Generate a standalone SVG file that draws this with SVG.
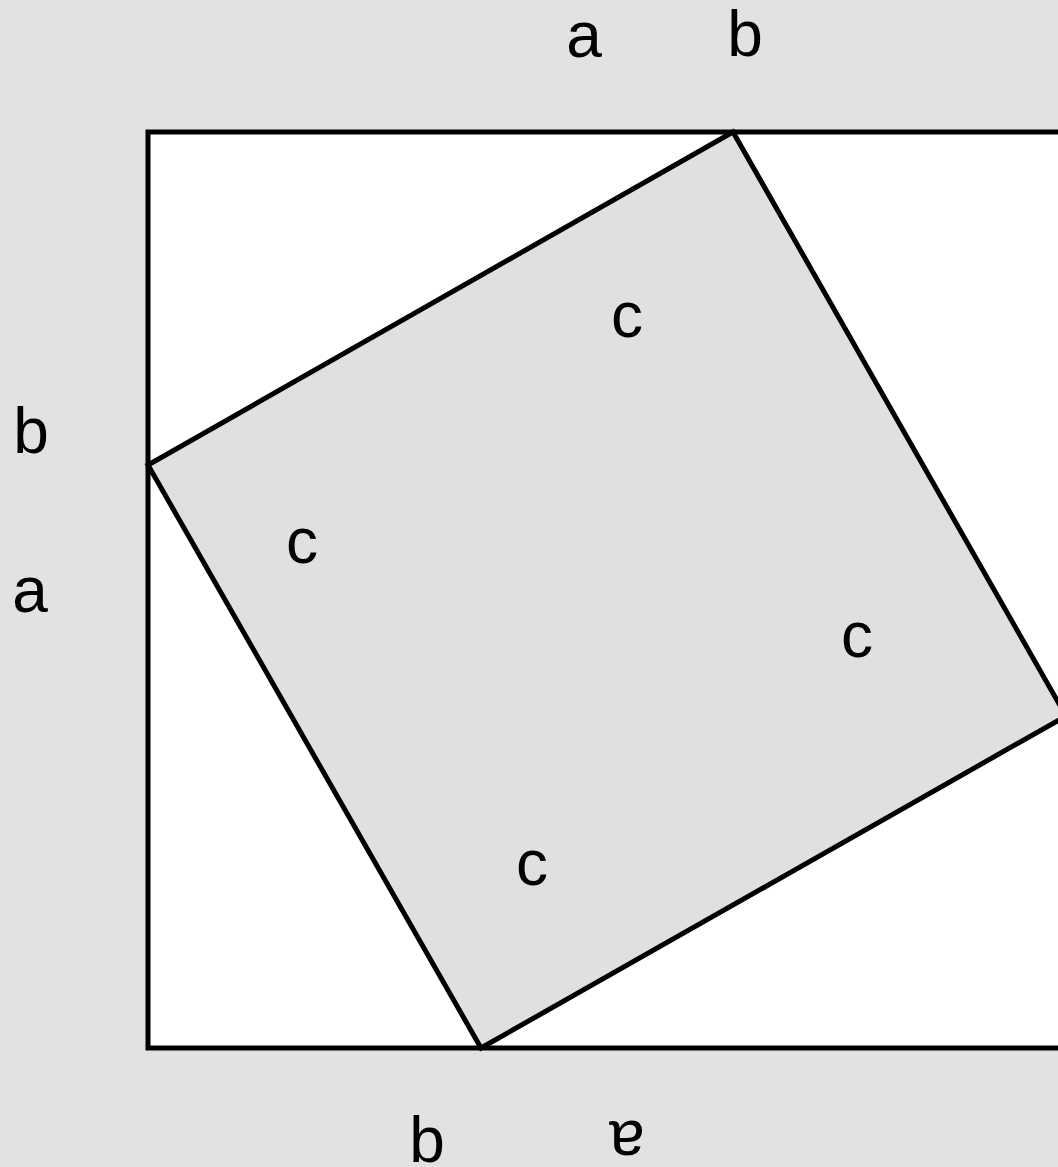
<svg xmlns="http://www.w3.org/2000/svg" width="1058" height="1167" viewBox="0 0 1058 1167">
<style>
.lbl{font-family:"Liberation Sans","DejaVu Sans",sans-serif;font-size:64px;fill:#000;text-anchor:middle}
.edge{stroke:#000;stroke-width:5;stroke-linejoin:miter}
</style>
<rect id="background" x="0" y="0" width="1058" height="1167" fill="#e2e2e2"/>
<g id="outer-square">
<rect x="148" y="132" width="918" height="916" fill="#ffffff" class="edge"/>
</g>
<g id="inner-square">
<polygon points="733,132 1066,716 481,1048 148,465" fill="#e0e0e0" class="edge"/>
</g>
<g id="connectors"></g>
<g id="labels">
<text class="lbl" x="584" y="57">a</text>
<text class="lbl" x="745" y="56">b</text>
<text class="lbl" x="31" y="453">b</text>
<text class="lbl" x="30" y="612">a</text>
<text class="lbl" x="627" y="337">c</text>
<text class="lbl" x="302" y="563">c</text>
<text class="lbl" x="857" y="657">c</text>
<text class="lbl" x="532" y="885">c</text>
<text class="lbl" x="427" y="1162">b</text>
<text class="lbl" x="627" y="1138" transform="rotate(180 627 1138)" dy="17">a</text>
</g>
</svg>
